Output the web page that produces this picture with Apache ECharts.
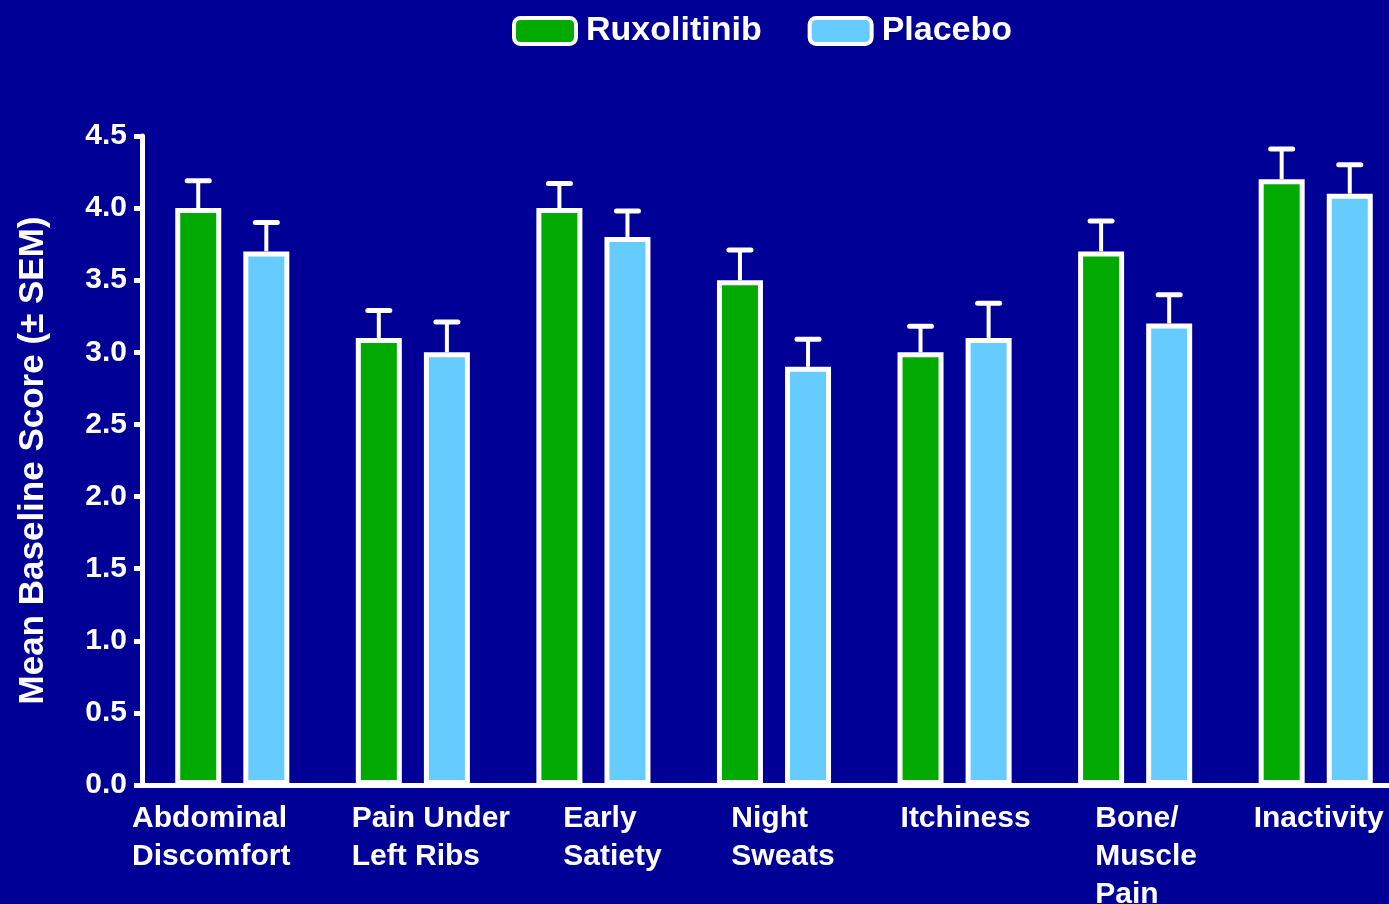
<!DOCTYPE html>
<html>
<head>
<meta charset="utf-8">
<title>Mean Baseline Score</title>
<script src="https://cdn.jsdelivr.net/npm/echarts@6/dist/echarts.min.js"></script>
<style>
  html, body { margin: 0; padding: 0; background: #000096; }
  #chart { width: 1389px; height: 904px; }
</style>
</head>
<body>
<div id="chart"></div>
<script>
// categories on the x axis
var categories = ['Abdominal\nDiscomfort', 'Pain Under\nLeft Ribs', 'Early\nSatiety', 'Night\nSweats',
  'Itchiness', 'Bone/\nMuscle\nPain', 'Inactivity'];
// mean scores
var ruxolitinib = [4.0, 3.1, 4.0, 3.5, 3.0, 3.7, 4.2];
var placebo = [3.7, 3.0, 3.8, 2.9, 3.1, 3.2, 4.1];
// SEM (upper whisker only)
var ruxolitinibSem = [0.19, 0.19, 0.17, 0.21, 0.18, 0.21, 0.21];
var placeboSem = [0.20, 0.21, 0.18, 0.19, 0.24, 0.20, 0.20];

// label nudges (px) so the text sits where the original put it
var labelShift = [-21, 18, 19, 9, 11, 11, 3];

var barW = 46;
var gapRatio = 0.48;
var font = 'Arial, "Liberation Sans", Helvetica, sans-serif';

function errData(vals, sem) {
  return vals.map(function (v, i) { return [i, v, v + sem[i]]; });
}

// whisker drawn above the bar, shifted to the bar's slot in the group
function errorRender(side) {
  return function (params, api) {
    var idx = api.value(0);
    var base = api.coord([idx, api.value(1)]);
    var top = api.coord([idx, api.value(2)]);
    var x = base[0] + side * barW * (1 + gapRatio) / 2;
    var half = 11;
    return {
      type: 'group',
      children: [
        { type: 'line', shape: { x1: x, y1: base[1], x2: x, y2: top[1] },
          style: { stroke: '#fff', lineWidth: 4 } },
        { type: 'line', shape: { x1: x - half, y1: top[1], x2: x + half, y2: top[1] },
          style: { stroke: '#fff', lineWidth: 5, lineCap: 'round' } }
      ]
    };
  };
}

// one rich style per label, padded on one side to move the block
var rich = {};
labelShift.forEach(function (s, i) {
  rich['l' + i] = {
    align: 'left', color: '#fff', fontSize: 30, fontWeight: 'bold', fontFamily: font, lineHeight: 38,
    padding: s > 0 ? [0, 0, 0, 2 * s] : [0, -2 * s, 0, 0]
  };
});

var myChart = echarts.init(document.getElementById('chart'));
var option = {
  backgroundColor: '#000096',
  textStyle: { fontFamily: font },
  legend: {
    left: 507,
    top: 9,
    itemWidth: 62,
    itemHeight: 26,
    itemGap: 46,
    icon: 'roundRect',
    itemStyle: { borderColor: '#fff', borderWidth: 4 },
    textStyle: { color: '#fff', fontSize: 34, fontWeight: 'bold', fontFamily: font, padding: [0, 0, 0, 5] },
    data: ['Ruxolitinib', 'Placebo']
  },
  grid: { left: 142, top: 136, bottom: 119, width: 1264, outerBoundsMode: 'none', containLabel: false },
  xAxis: {
    type: 'category',
    data: categories,
    axisLine: { lineStyle: { color: '#fff', width: 5 } },
    axisTick: { show: false },
    axisLabel: {
      color: '#fff',
      margin: 15,
      interval: 0,
      formatter: function (v, i) {
        return v.split('\n').map(function (s) { return '{l' + i + '|' + s + '}'; }).join('\n');
      },
      rich: rich
    }
  },
  yAxis: {
    type: 'value',
    min: 0,
    max: 4.5,
    interval: 0.5,
    name: 'Mean Baseline Score (\u00b1 SEM)',
    nameLocation: 'middle',
    nameRotate: 90,
    nameGap: 91,
    nameTextStyle: { color: '#fff', fontSize: 35, fontWeight: 'bold', fontFamily: font },
    axisLine: { show: true, lineStyle: { color: '#fff', width: 5 } },
    axisTick: { show: true, length: 8, lineStyle: { color: '#fff', width: 5 } },
    axisLabel: {
      color: '#fff', fontSize: 30, fontWeight: 'bold', margin: 15,
      formatter: function (v) { return v.toFixed(1); }
    },
    splitLine: { show: false }
  },
  series: [
    {
      name: 'Ruxolitinib',
      type: 'bar',
      data: ruxolitinib,
      barWidth: barW,
      barGap: (gapRatio * 100) + '%',
      itemStyle: { color: '#00aa00', borderColor: '#fff', borderWidth: 5 }
    },
    {
      name: 'Placebo',
      type: 'bar',
      data: placebo,
      barWidth: barW,
      barGap: (gapRatio * 100) + '%',
      itemStyle: { color: '#66ccff', borderColor: '#fff', borderWidth: 5 }
    },
    {
      type: 'custom',
      renderItem: errorRender(-1),
      data: errData(ruxolitinib, ruxolitinibSem),
      z: 1,
      silent: true
    },
    {
      type: 'custom',
      renderItem: errorRender(1),
      data: errData(placebo, placeboSem),
      z: 1,
      silent: true
    }
  ]
};
myChart.setOption(option);
</script>
</body>
</html>
